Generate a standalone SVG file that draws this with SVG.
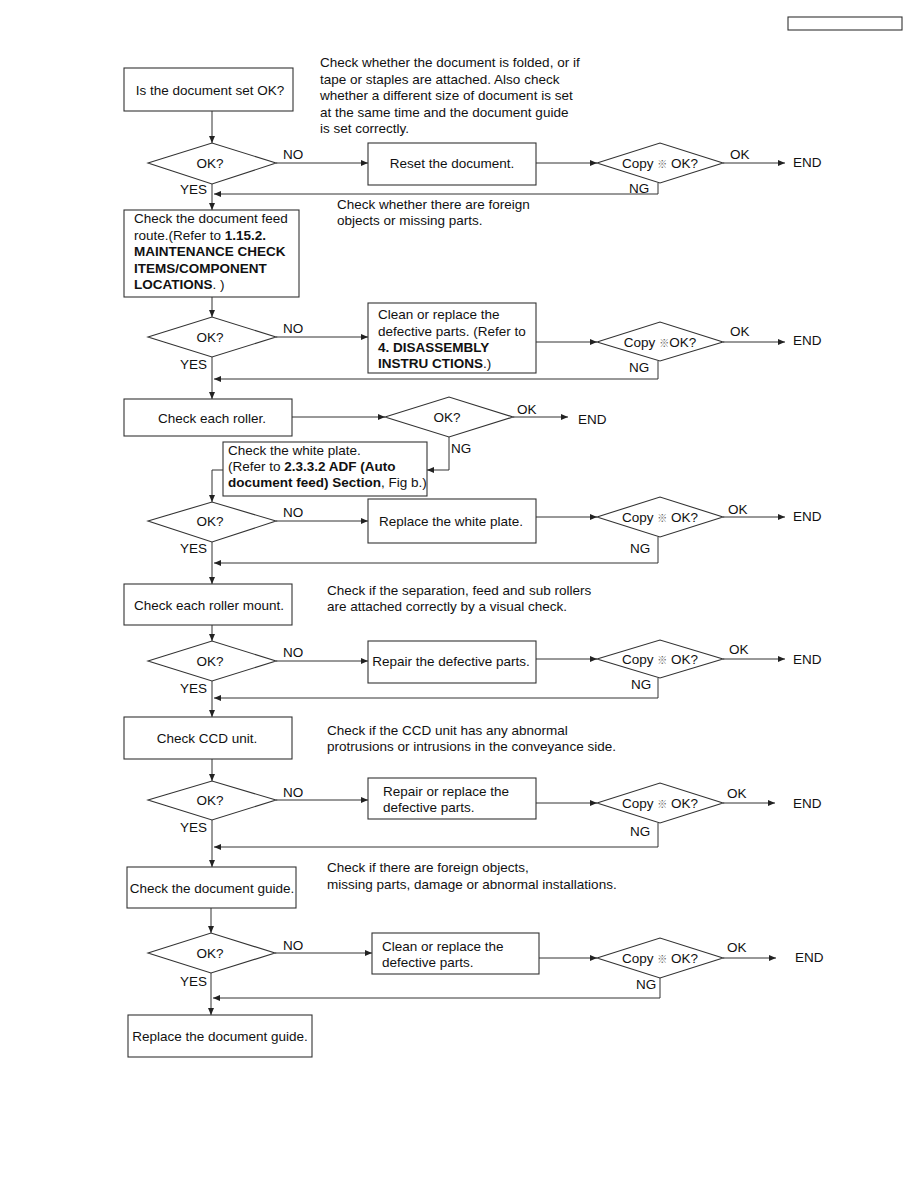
<svg xmlns="http://www.w3.org/2000/svg" width="918" height="1188" viewBox="0 0 918 1188">
<defs>
<marker id="ah" markerWidth="7" markerHeight="6" refX="7" refY="3" orient="auto" markerUnits="userSpaceOnUse"><path d="M0,0 L7,3 L0,6 z" fill="#222"/></marker>
<style>
text{font-family:"Liberation Sans",Arial,"Noto Sans CJK JP",sans-serif;font-size:13.5px;fill:#111}
.c{text-anchor:middle}
.b{font-weight:bold}
.k{font-size:10px;fill:#666}
rect,polygon{fill:#fff;stroke:#333;stroke-width:1.1}
.cn path{fill:none;stroke:#333;stroke-width:1}
.cn .a{marker-end:url(#ah)}
</style>
</defs>
<rect x="0" y="0" width="918" height="1188" style="fill:#fff;stroke:none"/>
<rect x="788" y="17" width="114" height="13"/>

<g class="cn" id="connectors">
<path class="a" d="M212,111 V143"/>
<path class="a" d="M276,163 H368"/>
<path class="a" d="M536,163 H597"/>
<path class="a" d="M723,163 H785"/>
<path class="a" d="M658,183 V194 H214"/>
<path class="a" d="M212,184 V210"/>
<path class="a" d="M212,297 V317"/>
<path class="a" d="M276,337 H368"/>
<path class="a" d="M536,342 H597"/>
<path class="a" d="M723,342 H785"/>
<path class="a" d="M658,361 V379 H214"/>
<path class="a" d="M212,357 V399"/>
<path class="a" d="M292,417 H385"/>
<path class="a" d="M513,417 H568"/>
<path class="a" d="M449,437 V470 H427"/>
<path class="a" d="M223,470 H212 V502"/>
<path class="a" d="M276,521 H368"/>
<path class="a" d="M536,517 H597"/>
<path class="a" d="M723,517 H785"/>
<path class="a" d="M658,537 V563 H214"/>
<path class="a" d="M212,542 V584"/>
<path class="a" d="M212,625 V641"/>
<path class="a" d="M276,661 H368"/>
<path class="a" d="M536,659 H597"/>
<path class="a" d="M723,659 H785"/>
<path class="a" d="M658,678 V698 H214"/>
<path class="a" d="M212,681 V717"/>
<path class="a" d="M212,759 V781"/>
<path class="a" d="M276,800 H368"/>
<path class="a" d="M536,803 H597"/>
<path class="a" d="M723,803 H775"/>
<path class="a" d="M658,823 V847 H214"/>
<path class="a" d="M212,820 V867"/>
<path class="a" d="M211,908 V933"/>
<path class="a" d="M275,953 H372"/>
<path class="a" d="M539,958 H597"/>
<path class="a" d="M723,958 H776"/>
<path class="a" d="M660,978 V998 H213"/>
<path class="a" d="M211,973 V1015"/>
</g>

<g id="labels">
<text x="283" y="159">NO</text><text x="180" y="194">YES</text>
<text x="730" y="159">OK</text><text x="793" y="167">END</text><text x="629" y="193">NG</text>
<text x="283" y="333">NO</text><text x="180" y="369">YES</text>
<text x="730" y="336">OK</text><text x="793" y="345">END</text><text x="629" y="372">NG</text>
<text x="517" y="414">OK</text><text x="578" y="424">END</text><text x="451" y="453">NG</text>
<text x="283" y="517">NO</text><text x="180" y="553">YES</text>
<text x="728" y="514">OK</text><text x="793" y="521">END</text><text x="630" y="553">NG</text>
<text x="283" y="657">NO</text><text x="180" y="693">YES</text>
<text x="729" y="654">OK</text><text x="793" y="664">END</text><text x="631" y="689">NG</text>
<text x="283" y="797">NO</text><text x="180" y="832">YES</text>
<text x="727" y="798">OK</text><text x="793" y="808">END</text><text x="630" y="836">NG</text>
<text x="283" y="950">NO</text><text x="180" y="986">YES</text>
<text x="727" y="952">OK</text><text x="795" y="962">END</text><text x="636" y="989">NG</text>
</g>

<g id="notes">
<text x="320" y="67">Check whether the document is folded, or if</text>
<text x="320" y="84">tape or staples are attached. Also check</text>
<text x="320" y="100">whether a different size of document is set</text>
<text x="320" y="117">at the same time and the document guide</text>
<text x="320" y="133">is set correctly.</text>
<text x="337" y="209">Check whether there are foreign</text>
<text x="337" y="225">objects or missing parts.</text>
<text x="327" y="595">Check if the separation, feed and sub rollers</text>
<text x="327" y="611">are attached correctly by a visual check.</text>
<text x="327" y="735">Check if the CCD unit has any abnormal</text>
<text x="327" y="751">protrusions or intrusions in the conveyance side.</text>
<text x="327" y="872">Check if there are foreign objects,</text>
<text x="327" y="889">missing parts, damage or abnormal installations.</text>
</g>

<g id="n1"><rect x="124" y="68" width="169" height="43"/><text class="c" x="210" y="95">Is the document set OK?</text></g>
<g id="d1"><polygon points="148,163 212,143 276,163 212,184"/><text class="c" x="210" y="168">OK?</text></g>
<g id="n2"><rect x="368" y="143" width="168" height="42"/><text class="c" x="452" y="168">Reset the document.</text></g>
<g id="c1"><polygon points="597,163 660,143 723,163 660,183"/><text class="c" x="660" y="168">Copy <tspan class="k">※</tspan> OK?</text></g>

<g id="n3"><rect x="124" y="210" width="175" height="87"/>
<text x="134" y="223">Check the document feed</text>
<text x="134" y="239.5">route.(Refer to <tspan class="b">1.15.2.</tspan></text>
<text x="134" y="256" class="b">MAINTENANCE CHECK</text>
<text x="134" y="272.5" class="b">ITEMS/COMPONENT</text>
<text x="134" y="289"><tspan class="b">LOCATIONS</tspan>. )</text></g>
<g id="d2"><polygon points="148,337 212,317 276,337 212,357"/><text class="c" x="210" y="342">OK?</text></g>
<g id="n4"><rect x="368" y="303" width="168" height="70"/>
<text x="378" y="319">Clean or replace the</text>
<text x="378" y="335.5">defective parts. (Refer to</text>
<text x="378" y="352" class="b">4. DISASSEMBLY</text>
<text x="378" y="368"><tspan class="b">INSTRU CTIONS</tspan>.)</text></g>
<g id="c2"><polygon points="597,342 660,322 723,342 660,361"/><text class="c" x="660" y="347">Copy <tspan class="k">※</tspan>OK?</text></g>

<g id="n5"><rect x="124" y="399" width="168" height="37"/><text class="c" x="212" y="423">Check each roller.</text></g>
<g id="d3"><polygon points="385,417 449,397 513,417 449,437"/><text class="c" x="447" y="422">OK?</text></g>
<g id="n6"><rect x="223" y="442" width="204" height="54"/>
<text x="228" y="455">Check the white plate.</text>
<text x="228" y="471">(Refer to <tspan class="b">2.3.3.2 ADF (Auto</tspan></text>
<text x="228" y="487"><tspan class="b">document feed) Section</tspan>, Fig b.)</text></g>
<g id="d4"><polygon points="148,521 212,502 276,521 212,542"/><text class="c" x="210" y="526">OK?</text></g>
<g id="n7"><rect x="368" y="499" width="168" height="44"/><text class="c" x="451" y="526">Replace the white plate.</text></g>
<g id="c4"><polygon points="597,517 660,497 723,517 660,537"/><text class="c" x="660" y="522">Copy <tspan class="k">※</tspan> OK?</text></g>

<g id="n8"><rect x="124" y="584" width="168" height="41"/><text class="c" x="209" y="610">Check each roller mount.</text></g>
<g id="d5"><polygon points="148,661 212,641 276,661 212,681"/><text class="c" x="210" y="666">OK?</text></g>
<g id="n9"><rect x="368" y="641" width="168" height="42"/><text class="c" x="451" y="666">Repair the defective parts.</text></g>
<g id="c5"><polygon points="597,659 660,640 723,659 660,678"/><text class="c" x="660" y="664">Copy <tspan class="k">※</tspan> OK?</text></g>

<g id="n10"><rect x="124" y="717" width="168" height="42"/><text class="c" x="207" y="743">Check CCD unit.</text></g>
<g id="d6"><polygon points="148,800 212,781 276,800 212,820"/><text class="c" x="210" y="805">OK?</text></g>
<g id="n11"><rect x="368" y="778" width="168" height="41"/>
<text x="383" y="796">Repair or replace the</text>
<text x="383" y="812">defective parts.</text></g>
<g id="c6"><polygon points="597,803 660,783 723,803 660,823"/><text class="c" x="660" y="808">Copy <tspan class="k">※</tspan> OK?</text></g>

<g id="n12"><rect x="127" y="867" width="169" height="41"/><text class="c" x="212" y="893">Check the document guide.</text></g>
<g id="d7"><polygon points="148,953 211,933 275,953 211,973"/><text class="c" x="210" y="958">OK?</text></g>
<g id="n13"><rect x="372" y="933" width="167" height="41"/>
<text x="382" y="951">Clean or replace the</text>
<text x="382" y="967">defective parts.</text></g>
<g id="c7"><polygon points="597,958 660,938 723,958 660,978"/><text class="c" x="660" y="963">Copy <tspan class="k">※</tspan> OK?</text></g>

<g id="n14"><rect x="128" y="1015" width="184" height="42"/><text class="c" x="220" y="1041">Replace the document guide.</text></g>
</svg>
